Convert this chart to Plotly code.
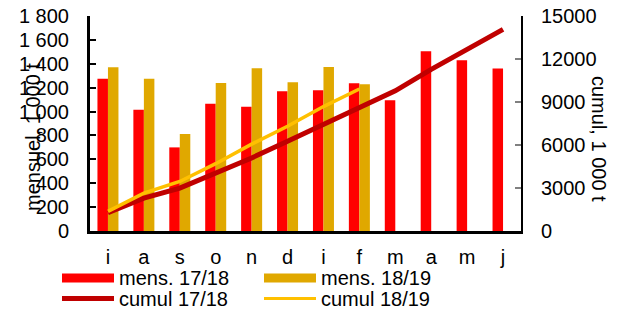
import plotly.graph_objects as go

# ---- data ----
months = ["i", "a", "s", "o", "n", "d", "i", "f", "m", "a", "m", "j"]
mens_1718 = [1275, 1015, 700, 1065, 1040, 1170, 1178, 1238, 1095, 1505, 1430, 1360]
mens_1819 = [1370, 1275, 812, 1240, 1363, 1246, 1374, 1229]
cumul_1718 = [1275, 2290, 2990, 4055, 5095, 6265, 7443, 8681, 9776, 11281, 12711, 14071]
cumul_1819 = [1370, 2645, 3457, 4697, 6060, 7306, 8680, 9909]
left_ticks = [0, 200, 400, 600, 800, 1000, 1200, 1400, 1600, 1800]
left_labels = ["0", "200", "400", "600", "800", "1 000", "1 200", "1 400", "1 600", "1 800"]
right_ticks = [0, 3000, 6000, 9000, 12000, 15000]
right_labels = ["0", "3000", "6000", "9000", "12000", "15000"]
series_names = ["mens. 17/18", "mens. 18/19", "cumul 17/18", "cumul 18/19"]

RED = "#FF0000"
GOLD = "#E0A800"
DARKRED = "#C00000"
YELLOW = "#FFC000"
FONT = "Liberation Sans, Arial, sans-serif"
FS = 20

W, H = 638, 310
L, R, T, B = 90, 521, 16, 231  # plot area in pixels


def px(x):
    return (x - L) / (R - L)


def py(y):
    return (B - y) / (B - T)


idx = list(range(len(months)))

fig = go.Figure()
fig.add_trace(go.Bar(x=idx, y=mens_1718, name=series_names[0], marker_color=RED,
                     marker_line_width=0, showlegend=False))
fig.add_trace(go.Bar(x=idx[:len(mens_1819)], y=mens_1819, name=series_names[1],
                     marker_color=GOLD, marker_line_width=0, showlegend=False))
fig.add_trace(go.Scatter(x=idx, y=cumul_1718, name=series_names[2], mode="lines",
                         line=dict(color=DARKRED, width=5), yaxis="y2", showlegend=False))
fig.add_trace(go.Scatter(x=idx[:len(cumul_1819)], y=cumul_1819, name=series_names[3],
                         mode="lines", line=dict(color=YELLOW, width=3.5), yaxis="y2",
                         showlegend=False))

fig.update_layout(
    width=W, height=H,
    margin=dict(l=L, r=W - R, t=T, b=H - B, pad=0, autoexpand=False),
    paper_bgcolor="white", plot_bgcolor="white",
    font=dict(family=FONT, size=FS, color="black"),
    barmode="group", bargap=0.415, bargroupgap=0,
    xaxis=dict(range=[-0.5, len(months) - 0.5], tickmode="array", tickvals=idx,
               ticktext=months, showline=True, linecolor="black", linewidth=3,
               ticks="", showgrid=False, zeroline=False, automargin=False,
               ticklabelstandoff=6),
    yaxis=dict(range=[0, 1800], tickmode="array", tickvals=left_ticks,
               ticktext=left_labels, showline=True, linecolor="black", linewidth=3,
               ticks="inside", ticklen=6, tickwidth=2, tickcolor="black",
               showgrid=False, zeroline=False, ticklabelstandoff=14, automargin=False),
    yaxis2=dict(range=[0, 15000], overlaying="y", side="right", tickmode="array",
                tickvals=right_ticks, ticktext=right_labels, showline=True,
                linecolor="black", linewidth=2, ticks="inside", ticklen=6,
                tickwidth=2, tickcolor="#808080", showgrid=False, zeroline=False,
                ticklabelstandoff=14, automargin=False),
)

annotations = [
    dict(x=px(20), y=py(137), xref="paper", yref="paper", text="mensuel, 1 000 t",
         textangle=-90, showarrow=False, font=dict(size=FS)),
    dict(x=px(612), y=py(139), xref="paper", yref="paper", text="cumul, 1 000 t",
         textangle=90, showarrow=False, font=dict(size=FS)),
]
shapes = []
legend_items = [
    (series_names[0], "rect", RED, 62, 278),
    (series_names[1], "rect", GOLD, 264, 278),
    (series_names[2], "line", DARKRED, 62, 298.5),
    (series_names[3], "line", YELLOW, 264, 298.5),
]
for name, kind, color, x0, yc in legend_items:
    if kind == "rect":
        shapes.append(dict(type="rect", xref="paper", yref="paper",
                           x0=px(x0), x1=px(x0 + 52), y0=py(yc - 4.5), y1=py(yc + 4.5),
                           fillcolor=color, line=dict(width=0)))
    else:
        shapes.append(dict(type="line", xref="paper", yref="paper",
                           x0=px(x0), x1=px(x0 + 52), y0=py(yc), y1=py(yc),
                           line=dict(color=color, width=5 if color == DARKRED else 3)))
    annotations.append(dict(x=px(x0 + 55), y=py(yc), xref="paper", yref="paper",
                            text=name, showarrow=False, xanchor="left", yanchor="middle",
                            font=dict(size=FS)))
fig.update_layout(annotations=annotations, shapes=shapes)

fig.write_html("out.html", config={"displayModeBar": False},
               post_script="document.body.style.margin='0px';document.body.style.overflow='hidden';")
